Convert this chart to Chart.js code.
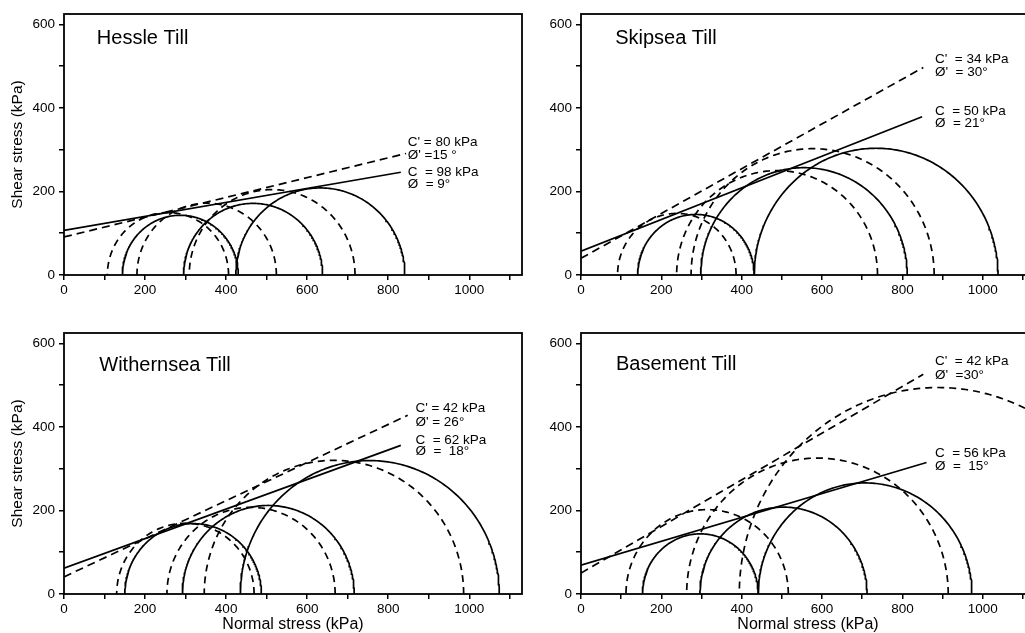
<!DOCTYPE html>
<html>
<head>
<meta charset="utf-8">
<script src="https://cdn.jsdelivr.net/npm/chart.js@4/dist/chart.umd.min.js"></script>
<style>
  html, body { margin: 0; padding: 0; background: #fff; overflow: hidden; }
  body { width: 1025px; height: 633px; position: relative; }
  canvas { position: absolute; }
</style>
</head>
<body>
<canvas id="c0" width="526" height="300" style="left:0;top:0"></canvas>
<canvas id="c1" width="530" height="300" style="left:530px;top:0"></canvas>
<canvas id="c2" width="526" height="323" style="left:0;top:310px"></canvas>
<canvas id="c3" width="530" height="323" style="left:530px;top:310px"></canvas>
<script>
// data (kPa)
const tills = ['Hessle Till', 'Skipsea Till', 'Withernsea Till', 'Basement Till'];

// total stress Mohr circles: sigma3 / sigma1
const totalS3 = [[144, 295, 424], [141, 298, 431], [150, 292, 435], [153, 296, 441]];
const totalS1 = [[430, 638, 841], [431, 812, 1038], [487, 716, 1074], [441, 712, 973]];
// effective stress Mohr circles (dashed)
const effS3 = [[107, 180, 309], [91, 238, 274], [130, 254, 346], [112, 263, 394]];
const effS1 = [[406, 524, 718], [386, 738, 879], [469, 669, 986], [516, 914, 1383]];

// failure envelopes as drawn: [x0, y0, x1, y1]
const totalEnv = [[0, 107, 831, 246], [0, 57, 849, 379], [0, 62, 831, 356], [0, 69, 860, 315]];
const effEnv = [[0, 91, 844, 291], [0, 40, 852, 497], [0, 41, 848, 428], [0, 50, 852, 526]];

// envelope parameters printed next to the lines
const effLabels = [["C' = 80 kPa", "Ø' =15 °"], ["C'  = 34 kPa", "Ø'  = 30°"], ["C' = 42 kPa", "Ø' = 26°"], ["C'  = 42 kPa", "Ø'  =30°"]];
const totalLabels = [["C  = 98 kPa", "Ø  = 9°"], ["C  = 50 kPa", "Ø  = 21°"], ["C  = 62 kPa", "Ø  =  18°"], ["C  = 56 kPa", "Ø  =  15°"]];

const xTickLabels = [0, 200, 400, 600, 800, 1000];
const yTickLabels = [0, 200, 400, 600];
const xTitle = 'Normal stress (kPa)';
const yTitle = 'Shear stress (kPa)';

// where the text sits, in data units
const notePos = [
    {title: [81, 553], eff: [848, 310, 277], tot: [848, 237, 208]},
    {title: [85, 553], eff: [881, 508, 476], tot: [881, 383, 355]},
    {title: [87, 534], eff: [867, 436, 402], tot: [867, 358, 333]},
    {title: [87, 536], eff: [881, 548, 514], tot: [881, 329, 297]}
];

const FONT = '"Liberation Sans", Arial, Helvetica, sans-serif';
const INK = '#000';
Chart.defaults.font.family = FONT;
Chart.defaults.color = INK;

// semicircle through sigma3 and sigma1
const mohr = (s3, s1) => {
    const c = (s1 + s3) / 2, r = (s1 - s3) / 2;
    const pts = [];
    for (let i = 0; i <= 180; i++) {
        const t = Math.PI * i / 180;
        pts.push({x: c + r * Math.cos(t), y: r * Math.sin(t)});
    }
    return pts;
};

const framePlugin = {
    id: 'frame',
    afterDatasetsDraw(chart, args, opts) {
        const {ctx, chartArea: a} = chart;
        const x = chart.scales.x, y = chart.scales.y;
        ctx.save();
        ctx.strokeStyle = INK;
        ctx.lineWidth = 1.8;
        ctx.strokeRect(a.left, a.top, a.right - a.left, a.bottom - a.top);
        ctx.fillStyle = INK;
        ctx.textBaseline = 'alphabetic';
        ctx.textAlign = 'left';
        ctx.font = '20px ' + FONT;
        ctx.fillText(opts.title, x.getPixelForValue(opts.pos.title[0]), y.getPixelForValue(opts.pos.title[1]));
        ctx.font = '13.5px ' + FONT;
        const e = opts.pos.eff, t = opts.pos.tot;
        opts.eff.forEach((s, i) => ctx.fillText(s, x.getPixelForValue(e[0]), y.getPixelForValue(e[1 + i])));
        opts.tot.forEach((s, i) => ctx.fillText(s, x.getPixelForValue(t[0]), y.getPixelForValue(t[1 + i])));
        ctx.restore();
    }
};

const panels = [
    {id: 'c0', yw: 64, padR: 4, padT: 14, xh: 25, yTitle: true, xTitle: false},
    {id: 'c1', yw: 51, padR: 25, padT: 14, xh: 25, yTitle: false, xTitle: false},
    {id: 'c2', yw: 64, padR: 4, padT: 23, xh: 39, yTitle: true, xTitle: true},
    {id: 'c3', yw: 51, padR: 25, padT: 23, xh: 39, yTitle: false, xTitle: true}
];

panels.forEach((p, k) => {
    const datasets = [];
    const line = {borderColor: INK, borderWidth: 1.7, pointRadius: 0, showLine: true, fill: false, tension: 0};
    totalS3[k].forEach((s3, i) => datasets.push({...line, data: mohr(s3, totalS1[k][i])}));
    effS3[k].forEach((s3, i) => datasets.push({...line, borderDash: [7, 5], data: mohr(s3, effS1[k][i])}));
    const te = totalEnv[k], ee = effEnv[k];
    datasets.push({...line, data: [{x: te[0], y: te[1]}, {x: te[2], y: te[3]}]});
    datasets.push({...line, borderDash: [8, 5], data: [{x: ee[0], y: ee[1]}, {x: ee[2], y: ee[3]}]});

    new Chart(document.getElementById(p.id), {
        type: 'scatter',
        data: {datasets},
        plugins: [framePlugin],
        options: {
            responsive: false,
            animation: false,
            events: [],
            layout: {padding: {top: p.padT, right: p.padR, left: 0, bottom: 0}},
            plugins: {
                legend: {display: false},
                tooltip: {enabled: false},
                frame: {title: tills[k], eff: effLabels[k], tot: totalLabels[k], pos: notePos[k]}
            },
            scales: {
                x: {
                    type: 'linear', min: 0, max: 1130,
                    afterFit: s => { s.height = p.xh; },
                    grid: {drawOnChartArea: false, color: INK, lineWidth: 1.5, tickLength: 5},
                    border: {display: false},
                    ticks: {
                        stepSize: 100, includeBounds: false, autoSkip: false, maxRotation: 0, padding: 2,
                        font: {size: 13.5}, color: INK,
                        callback: v => xTickLabels.includes(v) ? String(v) : ''
                    },
                    title: {display: p.xTitle, text: xTitle, font: {size: 16, lineHeight: 1}, padding: {top: 0, bottom: 0}, color: INK}
                },
                y: {
                    type: 'linear', min: 0, max: 625,
                    afterFit: s => { s.width = p.yw; },
                    grid: {drawOnChartArea: false, color: INK, lineWidth: 1.5, tickLength: 5},
                    border: {display: false},
                    ticks: {
                        stepSize: 100, includeBounds: false, padding: 4,
                        font: {size: 13.5}, color: INK,
                        callback: v => yTickLabels.includes(v) ? String(v) : ''
                    },
                    title: {display: p.yTitle, text: yTitle, font: {size: 15.5}, padding: {top: 8, bottom: 4}, color: INK}
                }
            }
        }
    });
});
</script>
</body>
</html>
